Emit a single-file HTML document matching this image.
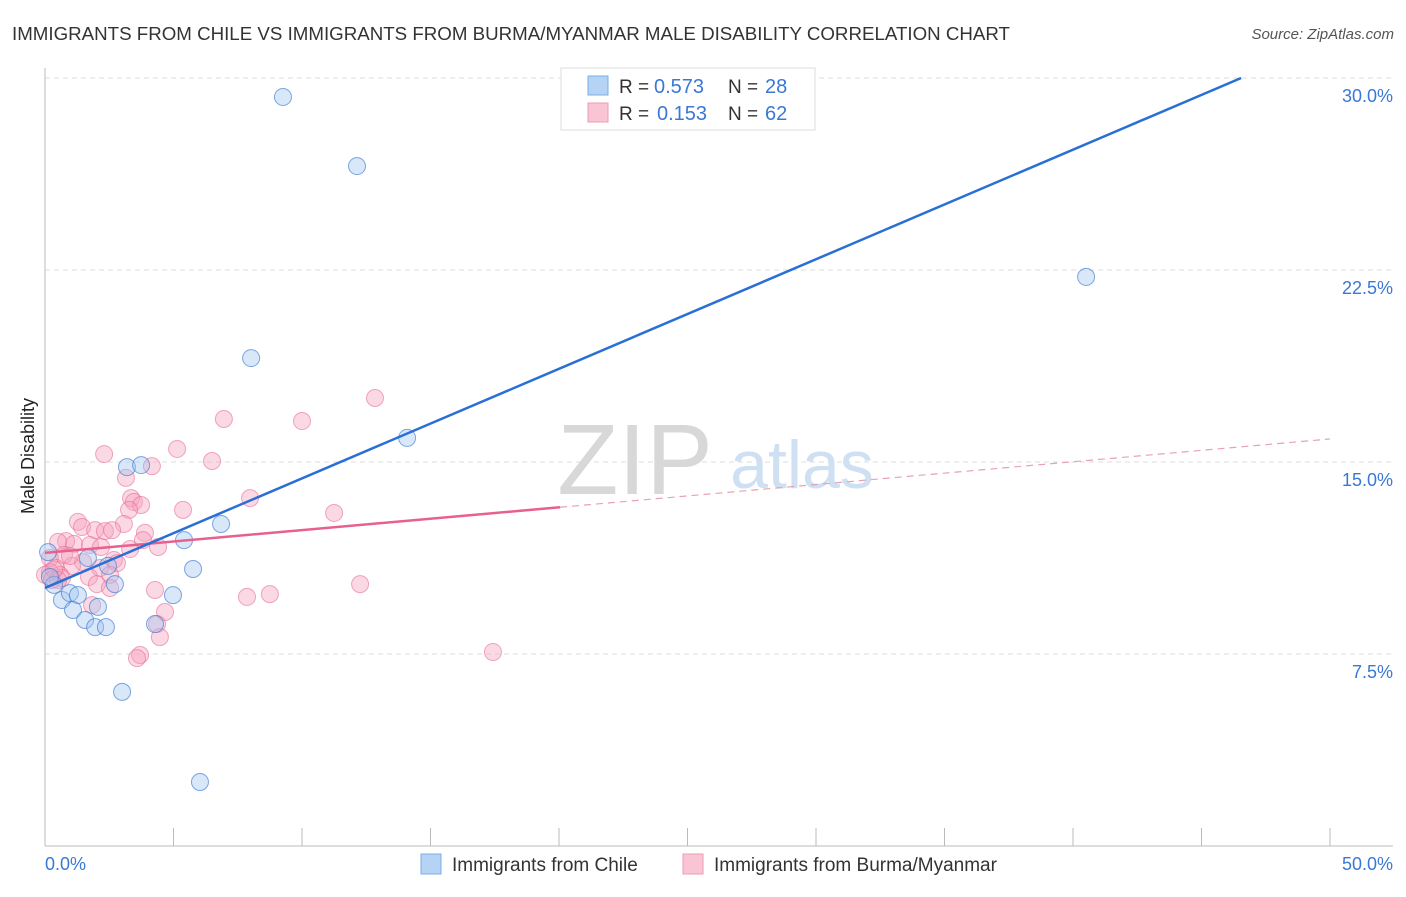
<!DOCTYPE html>
<html><head><meta charset="utf-8"><style>
body{margin:0;background:#fff;font-family:"Liberation Sans",sans-serif}
svg text{font-family:"Liberation Sans",sans-serif}
</style></head><body>
<svg width="1406" height="892">
<text x="12" y="40" font-size="18" fill="#333" textLength="998" lengthAdjust="spacingAndGlyphs">IMMIGRANTS FROM CHILE VS IMMIGRANTS FROM BURMA/MYANMAR MALE DISABILITY CORRELATION CHART</text>
<text x="1394" y="39" font-size="15" fill="#555" text-anchor="end" font-style="italic">Source: ZipAtlas.com</text>
<text x="34" y="456" font-size="18" fill="#222" text-anchor="middle" transform="rotate(-90 34 456)">Male Disability</text>
<g id="grid"></g>
<text x="635" y="494" font-size="100" fill="#d8d8d8" font-family="Liberation Serif" text-anchor="middle">ZIP</text>
<text x="802" y="488" font-size="68" fill="#cfe0f3" text-anchor="middle">atlas</text>
<g id="marks"></g>
<g>
<rect x="561" y="68" width="254" height="62" fill="#fff" stroke="#ddd"/>
<rect x="588" y="76" width="20" height="19" fill="#b5d3f5" stroke="#7aaee8"/>
<text x="619" y="93" font-size="19" fill="#333">R =</text><text x="654" y="93" font-size="20" fill="#3a78d4">0.573</text>
<text x="728" y="93" font-size="19" fill="#333">N =</text><text x="765" y="93" font-size="20" fill="#3a78d4">28</text>
<rect x="588" y="103" width="20" height="19" fill="#f9c5d4" stroke="#ee9ab4"/>
<text x="619" y="120" font-size="19" fill="#333">R =</text><text x="657" y="120" font-size="20" fill="#3a78d4">0.153</text>
<text x="728" y="120" font-size="19" fill="#333">N =</text><text x="765" y="120" font-size="20" fill="#3a78d4">62</text>
</g>
<g>
<rect x="421" y="854" width="20" height="20" fill="#b5d3f5" stroke="#7aaee8"/>
<text x="452" y="871" font-size="19" fill="#333">Immigrants from Chile</text>
<rect x="683" y="854" width="20" height="20" fill="#f9c5d4" stroke="#ee9ab4"/>
<text x="714" y="871" font-size="19" fill="#333">Immigrants from Burma/Myanmar</text>
</g>
</svg>
<script>
const yTicks=[7.5,15,22.5,30];
const yTickLabels=["7.5%","15.0%","22.5%","30.0%"];
const xTicks=[0,5,10,15,20,25,30,35,40,45,50];
const chileX=[9.26,12.14,40.51,8.02,14.09,3.19,3.74,6.85,5.41,5.76,0.12,0.35,2.72,2.45,1.67,0.66,0.97,1.28,1.09,1.56,2.06,1.95,2.37,4.98,4.28,3.00,6.03,0.19];
const chileY=[29.26,26.56,22.23,19.06,15.94,14.80,14.88,12.58,11.95,10.82,11.48,10.20,10.23,10.94,11.25,9.61,9.88,9.80,9.22,8.83,9.34,8.55,8.55,9.80,8.67,6.02,2.50,10.51];
const burmaX=[2.30,4.16,5.14,6.50,6.96,10.00,12.84,3.15,3.35,3.46,3.74,3.27,5.37,7.98,11.25,1.28,1.44,3.07,1.95,2.33,2.61,3.89,0.82,0.51,1.13,1.75,2.18,3.31,4.40,3.81,0.74,0.19,1.48,2.68,2.80,0.43,1.05,2.14,2.53,1.71,0.58,0.19,2.02,2.53,12.26,4.28,8.75,7.86,1.83,4.67,4.36,4.47,3.70,3.58,17.43,0,0.27,0.66,0.97,0.51,0.35];
const burmaY=[15.31,14.84,15.51,15.04,16.68,16.60,17.50,14.38,13.59,13.44,13.32,13.13,13.13,13.59,13.01,12.66,12.46,12.58,12.34,12.30,12.34,12.23,11.91,11.88,11.80,11.76,11.68,11.60,11.68,11.95,11.37,11.25,11.09,11.17,11.05,10.86,10.94,10.86,10.59,10.51,10.59,10.70,10.23,10.08,10.23,10.00,9.84,9.73,9.41,9.14,8.67,8.16,7.46,7.34,7.58,10.59,10.39,10.47,11.33,10.39,10.80];
const chileTrend=[10.08,0.428];
const burmaTrend=[11.45,0.089];
const NS='http://www.w3.org/2000/svg';
const X=v=>45+v/50*1285, Y=v=>846-v/7.5*192;
function mk(t,a,p){const e=document.createElementNS(NS,t);for(const k in a)e.setAttribute(k,a[k]);p.appendChild(e);return e;}
const g=document.getElementById('grid'), m=document.getElementById('marks');
yTicks.forEach((t,i)=>{
 const l=mk('line',{x1:45,x2:1393,y1:Y(t),y2:Y(t),stroke:'#ddd','stroke-dasharray':'5,4'},g);
 
 
 const tx=mk('text',{x:1393,y:Y(t)+24,'font-size':18,fill:'#3a78d4','text-anchor':'end'},g);tx.textContent=yTickLabels[i];
 
 
});
const ax=mk('line',{x1:45,x2:1393,y1:846,y2:846,stroke:'#bbb'},g);


const ay=mk('line',{x1:45,x2:45,y1:68,y2:846,stroke:'#bbb'},g);


xTicks.forEach(t=>{const l=mk('line',{x1:X(t),x2:X(t),y1:828,y2:846,stroke:'#bbb'},g);
 
 });
[[0,'0.0%','start',45],[50,'50.0%','end',1393]].forEach(d=>{const t=mk('text',{x:d[3],y:870,'font-size':18,fill:'#3a78d4','text-anchor':d[2]},g);t.textContent=d[1];
 
 });
burmaX.forEach((x,i)=>{const c=mk('circle',{cx:X(x),cy:Y(burmaY[i]),r:8.5,fill:'rgba(244,160,188,0.4)',stroke:'rgba(232,110,150,0.6)'},m);
 
 });
chileX.forEach((x,i)=>{const c=mk('circle',{cx:X(x),cy:Y(chileY[i]),r:8.5,fill:'rgba(160,198,240,0.4)',stroke:'rgba(60,120,210,0.65)'},m);
 
 });
const bx2=20.04;
const p1=mk('line',{x1:X(0),y1:Y(burmaTrend[0]),x2:X(bx2),y2:Y(burmaTrend[0]+burmaTrend[1]*bx2),stroke:'#e8608e','stroke-width':2.5},m);


const p2=mk('line',{x1:X(bx2),y1:Y(burmaTrend[0]+burmaTrend[1]*bx2),x2:X(50),y2:Y(burmaTrend[0]+burmaTrend[1]*50),stroke:'#e8a0b8','stroke-width':1.2,'stroke-dasharray':'7,5'},m);


const cx2=(30-chileTrend[0])/chileTrend[1];
const c1=mk('line',{x1:X(0),y1:Y(chileTrend[0]),x2:X(cx2),y2:Y(30),stroke:'#2a6fd6','stroke-width':2.5},m);


</script>
</body></html>
